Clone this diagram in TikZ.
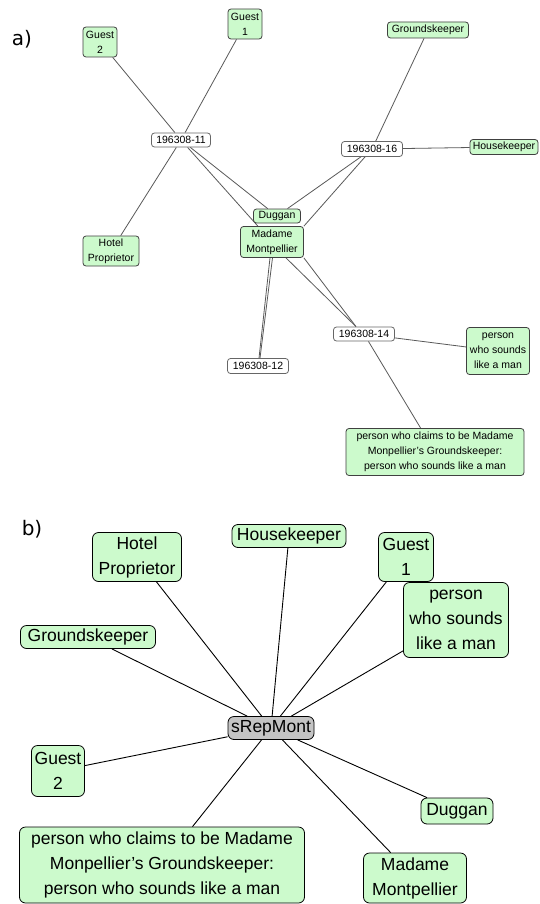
\documentclass[tikz,border=0pt]{standalone}
\usepackage{fontspec}
\setmainfont{Liberation Sans}
\newfontfamily\labfont{DejaVu Sans}
\usetikzlibrary{backgrounds}
\definecolor{nodegreen}{RGB}{204,250,204}
\definecolor{repgray}{RGB}{196,196,196}
\begin{document}
\begin{tikzpicture}[x=1pt,y=-1pt,
  gbox/.style={draw=black!75, fill=nodegreen, rounded corners=3pt, align=center, inner sep=0pt, line width=0.8pt},
  abox/.style={gbox, font=\fontsize{10.5}{15}\selectfont},
  idbox/.style={abox, fill=white, draw=black!60},
  bbox/.style={gbox, draw=black, rounded corners=6pt, font=\fontsize{17.5}{25}\selectfont},
  aedge/.style={draw=black!65, line width=0.8pt},
  bedge/.style={draw=black, line width=0.9pt},
  plabel/.style={font=\labfont\fontsize{20}{20}\selectfont}]
\useasboundingbox (0,0) rectangle (539,904);

% ---------- a) ----------
\node[plabel] (la) at (22,39) {a)};
\node[abox, minimum width=34, minimum height=30] (ag2) at (100,42) {Guest\\2};
\node[abox, minimum width=34, minimum height=30] (ag1) at (245,24) {Guest\\1};
\node[idbox, minimum width=59, minimum height=14] (n11) at (181,140) {196308-11};
\node[abox, minimum width=56, minimum height=30] (ahp) at (111,251) {Hotel\\Proprietor};
\node[abox, minimum width=47, minimum height=14] (adug) at (277,216) {Duggan};
\node[abox, minimum width=63, minimum height=31] (amm) at (272,242) {Madame\\Montpellier};
\node[idbox, minimum width=61, minimum height=15] (n12) at (258,366) {196308-12};
\node[abox, minimum width=81, minimum height=16] (ags) at (428,30) {Groundskeeper};
\node[idbox, minimum width=61, minimum height=15] (n16) at (372,149) {196308-16};
\node[abox, minimum width=68, minimum height=15] (ahk) at (504,147) {Housekeeper};
\node[idbox, minimum width=61, minimum height=14] (n14) at (364,334) {196308-14};
\node[abox, minimum width=63, minimum height=47] (aps) at (498,351) {person\\who sounds\\like a man};
\node[abox, minimum width=178, minimum height=47] (abig) at (435,452) {person who claims to be Madame\\Monpellier's Groundskeeper:\\person who sounds like a man};

% ---------- b) ----------
\node[plabel] (lb) at (32,529) {b)};
\node[bbox, minimum width=89, minimum height=49] (bhp) at (137,557) {Hotel\\Proprietor};
\node[bbox, minimum width=114, minimum height=23] (bhk) at (289,536) {Housekeeper};
\node[bbox, minimum width=135, minimum height=23] (bgs) at (88,637) {Groundskeeper};
\node[bbox, minimum width=55, minimum height=49] (bg1) at (406,557) {Guest\\1};
\node[bbox, minimum width=105, minimum height=75] (bps) at (456,620) {person\\who sounds\\like a man};
\node[bbox, fill=repgray, minimum width=86, minimum height=23] (rep) at (271,728) {sRepMont};
\node[bbox, minimum width=53, minimum height=51] (bg2) at (58,771) {Guest\\2};
\node[bbox, minimum width=72, minimum height=26] (bdug) at (457,811) {Duggan};
\node[bbox, minimum width=285, minimum height=76] (bbig) at (162,865) {person who claims to be Madame\\Monpellier's Groundskeeper:\\person who sounds like a man};
\node[bbox, minimum width=103, minimum height=50] (bmm) at (415,878) {Madame\\Montpellier};

\begin{scope}[on background layer]
  \fill[white] (0,0) rectangle (539,904);
  % a) edges
  \draw[aedge] (ag2) -- (n11);
  \draw[aedge] (ag1) -- (n11);
  \draw[aedge] (ahp) -- (n11);
  \draw[aedge] (n11) -- (adug);
  \draw[aedge] (n11) -- (amm);
  \draw[aedge] (ags) -- (n16);
  \draw[aedge] (ahk) -- (n16);
  \draw[aedge] (n16) -- (adug);
  \draw[aedge] (n16) -- (amm.north east);
  \draw[aedge] ([xshift=-2pt]amm.south) -- ([xshift=1pt]n12.north);
  \draw[aedge] ([xshift=0.5pt]amm.south) -- ([xshift=2pt]n12.north);
  \draw[aedge] ([xshift=14pt]amm.south) -- ([xshift=-8pt]n14.north);
  \draw[aedge] (amm.south east) -- ([xshift=-8pt]n14.north);
  \draw[aedge] (n14) -- (aps);
  \draw[aedge] (n14) -- (abig);
  % b) edges
  \draw[bedge] (rep) -- (bhp);
  \draw[bedge] (rep) -- (bhk);
  \draw[bedge] (rep) -- (bgs);
  \draw[bedge] (rep) -- (bg1);
  \draw[bedge] (rep) -- (bps);
  \draw[bedge] (rep) -- (bg2);
  \draw[bedge] (rep) -- (bdug);
  \draw[bedge] (rep) -- (bbig);
  \draw[bedge] (rep) -- (bmm);
\end{scope}
\end{tikzpicture}
\end{document}
